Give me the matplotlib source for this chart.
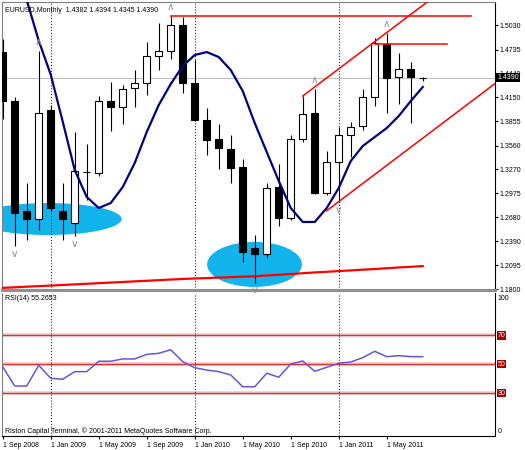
import matplotlib
matplotlib.use('Agg')
import matplotlib.pyplot as plt
from matplotlib.patches import Ellipse

plt.rcParams['font.family'] = ['Liberation Sans', 'DejaVu Sans']
plt.rcParams['font.size'] = 5

# monthly EURUSD bars, Sep 2008 .. Aug 2011
months = ['Sep 2008', 'Oct 2008', 'Nov 2008', 'Dec 2008', 'Jan 2009', 'Feb 2009',
          'Mar 2009', 'Apr 2009', 'May 2009', 'Jun 2009', 'Jul 2009', 'Aug 2009',
          'Sep 2009', 'Oct 2009', 'Nov 2009', 'Dec 2009', 'Jan 2010', 'Feb 2010',
          'Mar 2010', 'Apr 2010', 'May 2010', 'Jun 2010', 'Jul 2010', 'Aug 2010',
          'Sep 2010', 'Oct 2010', 'Nov 2010', 'Dec 2010', 'Jan 2011', 'Feb 2011',
          'Mar 2011', 'Apr 2011', 'May 2011', 'Jun 2011', 'Jul 2011', 'Aug 2011']
opens = [1.4700, 1.4110, 1.2760, 1.2660, 1.3990, 1.2760, 1.2610, 1.3240, 1.3227,
         1.4108, 1.4035, 1.4268, 1.4329, 1.4656, 1.4721, 1.5035, 1.4321, 1.3872,
         1.3636, 1.3520, 1.3300, 1.2302, 1.2228, 1.3056, 1.2669, 1.3636, 1.3962,
         1.2975, 1.3355, 1.3689, 1.3799, 1.4157, 1.4799, 1.4395, 1.4493, 1.4382]
highs = [1.4860, 1.4157, 1.3100, 1.4720, 1.4060, 1.3097, 1.3730, 1.3578, 1.4166,
         1.4341, 1.4301, 1.4484, 1.4830, 1.5063, 1.5143, 1.5137, 1.4607, 1.4015,
         1.3820, 1.3689, 1.3390, 1.2465, 1.3105, 1.3330, 1.3689, 1.4166, 1.4248,
         1.3493, 1.3790, 1.3851, 1.4248, 1.4880, 1.4940, 1.4689, 1.4586, 1.4394]
lows = [1.3880, 1.2330, 1.2400, 1.2526, 1.2750, 1.2403, 1.2452, 1.2893, 1.3189,
        1.3741, 1.3823, 1.4035, 1.4178, 1.4484, 1.4619, 1.4206, 1.3860, 1.3444,
        1.3269, 1.3105, 1.2138, 1.1880, 1.2179, 1.2575, 1.2650, 1.3607, 1.2970,
        1.2954, 1.2870, 1.3423, 1.3750, 1.4044, 1.3962, 1.4068, 1.3832, 1.4345]
closes = [1.4110, 1.2730, 1.2660, 1.3962, 1.2790, 1.2660, 1.3250, 1.3230, 1.4108,
          1.4035, 1.4248, 1.4329, 1.4656, 1.4721, 1.5035, 1.4321, 1.3872, 1.3627,
          1.3526, 1.3281, 1.2260, 1.2228, 1.3044, 1.2669, 1.3636, 1.3946, 1.2975,
          1.3354, 1.3689, 1.3790, 1.4157, 1.4811, 1.4390, 1.4493, 1.4395, 1.4390]

ma_fast = [1.632, 1.583, 1.5341, 1.4844, 1.4428, 1.3853, 1.3260, 1.2930, 1.2795,
           1.2856, 1.3052, 1.3346, 1.3725, 1.4056, 1.4313, 1.4533, 1.4668, 1.4704,
           1.4643, 1.4484, 1.4227, 1.3835, 1.3480, 1.3126, 1.2795, 1.2624, 1.2624,
           1.2795, 1.3040, 1.3370, 1.3554, 1.3664, 1.3774, 1.3921, 1.4104, 1.4276]
ma_slow = [1.1817, 1.1824, 1.1832, 1.1838, 1.1845, 1.1853, 1.1860, 1.1867, 1.1875,
           1.1882, 1.1889, 1.1897, 1.1904, 1.1911, 1.1919, 1.1926, 1.1932, 1.1937,
           1.1943, 1.1948, 1.1954, 1.1959, 1.1969, 1.1977, 1.1987, 1.1996, 1.2006,
           1.2014, 1.2023, 1.2031, 1.2040, 1.2048, 1.2057, 1.2067, 1.2075, 1.2084]
rsi = [48.3, 34.9, 34.9, 49.3, 40.3, 39.6, 44.9, 44.9, 52.1, 52.1, 53.7, 53.7,
       56.9, 57.6, 60.1, 51.8, 47.6, 46.0, 44.9, 42.6, 34.4, 34.4, 43.8, 41.0,
       50.2, 52.3, 45.1, 47.9, 50.7, 51.6, 54.6, 59.0, 55.3, 56.0, 55.3, 55.2653]

price_ticks = [1.1800, 1.2095, 1.2390, 1.2680, 1.2975, 1.3270, 1.3560, 1.3855,
               1.4150, 1.4440, 1.4735, 1.5030]
rsi_levels = [70, 50, 30]
separator_bars = [4, 16, 28]
label_bars = [0, 4, 8, 12, 16, 20, 24, 28, 32]
up_fractals = [3, 14, 26, 32]
down_fractals = [1, 6, 21, 28]

# drawn objects: horizontal levels, channel lines, highlight ellipses
level_price = [1.5143, 1.4806]
level_from = [14, 31]
level_to = [39.0, 37.0]
channel_from = [25, 27]
channel_price = [1.4166, 1.2762]
channel_slope = 0.0111
ellipse_bar = [3.78, 20.98]
ellipse_price = [1.2660, 1.2104]
ellipse_w = [12.25, 7.9]
ellipse_h = [0.0392, 0.0551]

n = len(closes)
xs = list(range(n))

fig = plt.figure(figsize=(5.25, 4.5), dpi=100)
ax = fig.add_axes([2 / 525, 1 - 290 / 450, 493 / 525, 288 / 450])
ax2 = fig.add_axes([2 / 525, 1 - 436 / 450, 493 / 525, 143 / 450])

# ---- price panel ----
for cx, cy, w, h in zip(ellipse_bar, ellipse_price, ellipse_w, ellipse_h):
    ax.add_patch(Ellipse((cx, cy), w, h, facecolor='#12b4ec', edgecolor='none', zorder=1))

ax.axhline(closes[-1], color='#c0c0c0', lw=0.8, zorder=1.5)
for b in separator_bars:
    ax.axvline(b, color='black', ls=(0, (1, 2)), lw=0.7, zorder=1.6)
    ax2.axvline(b, color='black', ls=(0, (1, 2)), lw=0.7, zorder=1.6)

ax.vlines(xs, lows, highs, color='black', lw=0.8, zorder=3)
body_colors = ['white' if c >= o else 'black' for o, c in zip(opens, closes)]
ax.bar(xs, [abs(c - o) for o, c in zip(opens, closes)],
       bottom=[min(o, c) for o, c in zip(opens, closes)],
       width=0.6, color=body_colors, edgecolor='black', lw=0.8, zorder=3.5)

ax.plot(xs, ma_slow, color='red', lw=1.6, zorder=4)
ax.plot(xs, ma_fast, color='#000080', lw=1.6, zorder=4)

for p, a, b in zip(level_price, level_from, level_to):
    ax.plot([a, b], [p, p], color='red', lw=1.1, zorder=5)
for a, p in zip(channel_from, channel_price):
    end = 42.0
    ax.plot([a, end], [p, p + channel_slope * (end - a)], color='red', lw=1.1, zorder=5)

for b in up_fractals:
    ax.annotate('∧', xy=(b, highs[b]), xytext=(0, 6.5), textcoords='offset points',
                ha='center', va='center', color='#909090', fontsize=7.5,
                family='DejaVu Sans', zorder=6)
for b in down_fractals:
    ax.annotate('∨', xy=(b, lows[b]), xytext=(0, -5.5), textcoords='offset points',
                ha='center', va='center', color='#909090', fontsize=7.5,
                family='DejaVu Sans', zorder=6)

ax.set_xlim(-0.06, 41.02)
ax.set_ylim(1.1791, 1.5317)
ax.yaxis.tick_right()
ax.set_yticks(price_ticks)
ax.set_yticklabels(['%.4f' % t for t in price_ticks])
ax.tick_params(axis='y', length=2, pad=1.5, labelsize=5, colors='black')
ax.set_xticks([])
for s in ['left', 'top']:
    ax.spines[s].set_color('#808080')
ax.spines['bottom'].set_color('#909090')
ax.spines['bottom'].set_linewidth(2.2)
ax.spines['right'].set_linestyle((0, (1, 1)))
ax.spines['right'].set_color('black')

ax.annotate('%.4f' % closes[-1], xy=(1, closes[-1]), xycoords=('axes fraction', 'data'),
            xytext=(1.5, 0), textcoords='offset points', ha='left', va='center',
            color='white', fontsize=5, annotation_clip=False, zorder=10,
            bbox=dict(boxstyle='square,pad=0.15', fc='black', ec='none'))

fig.text(5 / 525, 1 - 10 / 450,
         'EURUSD,Monthly  %.4f %.4f %.4f %.4f' % (opens[-1], highs[-1], lows[-1], closes[-1]),
         ha='left', va='center', fontsize=5)

# ---- RSI panel ----
for lvl in rsi_levels:
    ax2.axhline(lvl, color='#f2c8c8', lw=2.6, zorder=1)
    ax2.axhline(lvl, color='#d83030', lw=0.9, zorder=1.2)
    ax2.annotate(str(lvl), xy=(1, lvl), xycoords=('axes fraction', 'data'),
                 xytext=(2, 0), textcoords='offset points', ha='left', va='center',
                 color='white', fontsize=5, annotation_clip=False,
                 bbox=dict(boxstyle='square,pad=0.1', fc='#a80000', ec='none'))
ax2.annotate('100', xy=(1, 96), xycoords=('axes fraction', 'data'), xytext=(2, 0),
             textcoords='offset points', ha='left', va='center', fontsize=5,
             annotation_clip=False)
ax2.annotate('0', xy=(1, 3), xycoords=('axes fraction', 'data'), xytext=(2, 0),
             textcoords='offset points', ha='left', va='center', fontsize=5,
             annotation_clip=False)

ax2.plot(xs, rsi, color='#6655dd', lw=1.1, zorder=3)
ax2.set_xlim(-0.06, 41.02)
ax2.set_ylim(0.2, 99.5)
ax2.set_yticks([])
ax2.set_xticks(label_bars)
ax2.set_xticklabels(['1 ' + months[i] for i in label_bars], ha='left')
ax2.tick_params(axis='x', length=2, pad=2, labelsize=5)
ax2.spines['left'].set_color('#808080')
ax2.spines['top'].set_visible(False)
ax2.spines['right'].set_linestyle((0, (1, 1)))
ax2.spines['bottom'].set_linestyle((0, (1, 1)))

fig.text(5 / 525, 1 - 298 / 450, 'RSI(14) %.4f' % rsi[-1], ha='left', va='center', fontsize=5)
fig.text(5 / 525, 1 - 431 / 450, 'Riston Capital Terminal, © 2001-2011 MetaQuotes Software Corp.',
         ha='left', va='center', fontsize=5)

fig.savefig('out.png', dpi=100)
